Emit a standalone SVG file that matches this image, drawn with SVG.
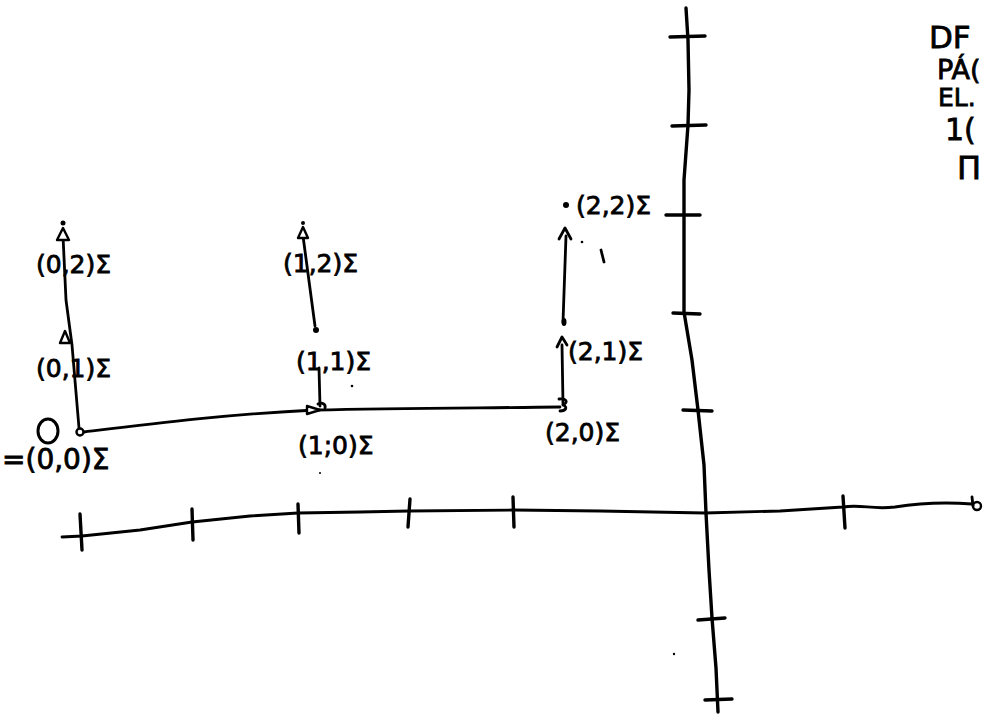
<svg xmlns="http://www.w3.org/2000/svg" width="985" height="714" viewBox="0 0 985 714">
<defs>
<style>
.ln{fill:none;stroke:#000;stroke-width:2.8;stroke-linecap:round;stroke-linejoin:round}
.th{fill:none;stroke:#000;stroke-width:3.4;stroke-linecap:round;stroke-linejoin:round}
.ah{fill:#fff;stroke:#000;stroke-width:2.4;stroke-linejoin:round}
.dot{fill:#000}
.t{font-family:"DejaVu Sans","Liberation Sans",sans-serif;font-size:25px;fill:#000;stroke:#000;stroke-width:0.8}
.big{font-family:"DejaVu Sans","Liberation Sans",sans-serif;font-size:28px;fill:#000;stroke:#000;stroke-width:0.8}
</style>
</defs>
<rect width="985" height="714" fill="#fff"/>

<g id="axes">
<path class="ln" d="M62,537 L82,536 L140,530 L192,522 L250,516 L298,513 L360,512 L409,511 L513,510 L600,511 L705,513 L780,511 L843,507 C862,504 872,510 895,507 C920,503 945,502 972,504"/>
<circle cx="977" cy="506" r="4" fill="#fff" stroke="#000" stroke-width="2.4"/>
<path class="ln" d="M972,497 L973,506"/>
<path class="th" d="M80,514 L82,550"/>
<path class="th" d="M192,509 L193,540"/>
<path class="th" d="M298,504 L299,533"/>
<path class="th" d="M410,499 L408,527"/>
<path class="th" d="M513,497 L514,527"/>
<path class="th" d="M843,496 L845,528"/>
<path class="th" d="M686,8 L688,40 L689,90 L688,125 L684,180 L684,215 L684,312 L692,360 L698,410 L704,465 L706,513 L709,570 L712,618 L716,668 L718,712"/>
<path class="th" d="M670,37 L705,36"/>
<path class="th" d="M672,126 L706,125"/>
<path class="th" d="M666,215 L700,215"/>
<path class="th" d="M673,313 L700,314"/>
<path class="th" d="M683,410 L712,411"/>
<path class="th" d="M698,620 L725,618"/>
<path class="th" d="M705,700 L732,699"/>
</g>

<g id="connectors">
<path class="ln" d="M84,432 C150,424 230,414 315,410 C400,408 480,408 560,407"/>
<path class="ln" d="M79,428 L72,345 L66,300 L63,236"/>
<path class="ln" d="M315,326 L303,236"/>
<path class="ln" d="M319,368 L320,406"/>
<path class="ln" d="M566,236 L563,322"/>
<path class="ln" d="M562,345 L563,404"/>
</g>

<g id="arrowheads">
<path class="ah" d="M57,240 L63,228 L69,240 Z"/>
<circle class="dot" cx="63" cy="223" r="2.5"/>
<path class="ah" d="M60,343 L65,331 L70,343 Z"/>
<path class="ah" d="M298,238 L303,227 L308,238 Z"/>
<circle class="dot" cx="303" cy="223" r="2"/>
<path class="ah" d="M307,406 L320,410 L307,414 Z"/>
<path class="ln" d="M318,404 C322,402 326,404 325,408"/>
<path class="ln" d="M559,399 C566,398 569,402 563,405 C568,407 566,411 560,411"/>
<path class="ln" d="M559,239 L565,228 L571,239"/>
<path class="ln" d="M557,347 L562,337 L567,345"/>
</g>

<g id="node-origin">
<ellipse cx="48" cy="431" rx="10" ry="12" fill="none" stroke="#000" stroke-width="3"/>
<circle cx="80" cy="432" r="3.5" fill="#fff" stroke="#000" stroke-width="2.4"/>
<text class="big" x="2" y="469">=(0,0)Σ</text>
</g>
<g id="node-0-1"><text class="t" x="36" y="377">(0,1)Σ</text></g>
<g id="node-0-2"><text class="t" x="36" y="273">(0,2)Σ</text></g>

<g id="node-1-0"><text class="t" x="298" y="454">(1;0)Σ</text></g>
<g id="node-1-1">
<circle class="dot" cx="316" cy="330" r="3"/>
<text class="t" x="296" y="370">(1,1)Σ</text>
</g>
<g id="node-1-2"><text class="t" x="283" y="272">(1,2)Σ</text></g>

<g id="node-2-0"><text class="t" x="545" y="441">(2,0)Σ</text></g>
<g id="node-2-1">
<ellipse class="dot" cx="564" cy="322" rx="2.5" ry="4"/>
<text class="t" x="568" y="360">(2,1)Σ</text>
</g>
<g id="node-2-2">
<circle class="dot" cx="566" cy="205" r="3"/>
<text class="t" x="576" y="214">(2,2)Σ</text>
</g>

<g id="specks">
<circle class="dot" cx="582" cy="242" r="1.3"/>
<path class="ln" d="M601,250 L604,262" stroke-width="1.4"/>
<circle class="dot" cx="352" cy="386" r="1.3"/>
<circle class="dot" cx="320" cy="473" r="1"/>
<circle class="dot" cx="674" cy="654" r="1.2"/>
</g>

<g id="note">
<text class="big" x="929" y="48" style="font-size:31px">DF</text>
<text class="t" x="937" y="79" style="font-size:27px">PÁ(</text>
<text class="t" x="938" y="106">EL.</text>
<text class="big" x="945" y="140" style="font-size:30px">1(</text>
<text class="big" x="957" y="179" style="font-size:32px">Π</text>
</g>
</svg>
